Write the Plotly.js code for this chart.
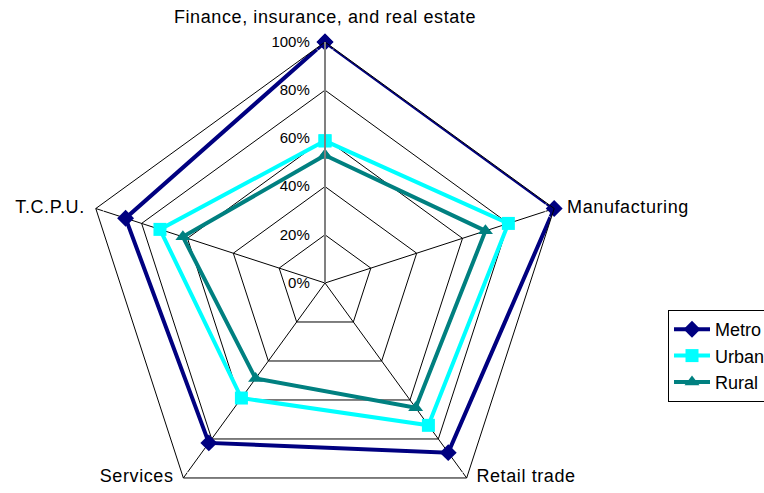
<!DOCTYPE html>
<html>
<head>
<meta charset="utf-8">
<script src="https://cdn.plot.ly/plotly-3.0.1.min.js"></script>
<style>
  html, body { margin: 0; padding: 0; overflow: hidden; background: #fff; }
  #chart { width: 800px; height: 540px; }
  /* the original labels are set a little wider than Arial */
  .polar .textpoint text { letter-spacing: 0.6px; }
</style>
</head>
<body>
<div id="chart"></div>
<script>
// Sector shares by area type, radar chart (clockwise from the top).
const sectors = ['Finance, insurance, and real estate', 'Manufacturing', 'Retail trade', 'Services', 'T.C.P.U.'];
const metro = [1.00, 1.00, 0.87, 0.82, 0.87];
const urban = [0.59, 0.80, 0.73, 0.59, 0.72];
const rural = [0.53, 0.70, 0.64, 0.49, 0.62];

const FONT = 'Arial, "Liberation Sans", sans-serif';

// repeat the first point so each polygon closes
const closed = arr => [...arr, arr[0]];

function series(name, values, color, symbol) {
  return {
    type: 'scatterpolar',
    mode: 'lines+markers',
    name,
    r: closed(values),
    theta: closed(sectors),
    line: { color, width: 4 },
    marker: { color, symbol, size: 13 },
    cliponaxis: false,
  };
}

// category labels: a text trace on the outer ring, so each label can sit on
// its own side of the vertex like the original. The invisible marker size
// only sets how far the text stands off the vertex.
const labelTrace = {
  type: 'scatterpolar',
  mode: 'markers+text',
  r: sectors.map(() => 1),
  theta: sectors,
  text: sectors,
  textposition: ['top center', 'middle right', 'middle right', 'middle left', 'middle left'],
  textfont: { family: FONT, size: 18, color: '#000' },
  marker: { size: [22, 19, 14, 14, 16], color: 'rgba(0,0,0,0)' },
  showlegend: false,
  cliponaxis: false,
  hoverinfo: 'skip',
};

const traces = [
  series('Metro', metro, '#000080', 'diamond'),
  series('Urban', urban, '#00ffff', 'square'),
  series('Rural', rural, '#008080', 'triangle-up'),
  labelTrace,
];

const W = 800, H = 540;
const cx = 325, cy = 283, R = 241;

const layout = {
  width: W, height: H,
  margin: { t: 0, r: 0, b: 0, l: 0, autoexpand: false },
  paper_bgcolor: '#fff',
  font: { family: FONT, color: '#000', size: 18 },
  showlegend: true,
  legend: {
    x: 668 / W, xanchor: 'left',
    y: 1 - 310 / H, yanchor: 'top',
    bordercolor: '#000', borderwidth: 1,
    font: { family: FONT, size: 18, color: '#000' },
    itemwidth: 36,
    tracegroupgap: 0,
  },
  polar: {
    domain: { x: [(cx - R) / W, (cx + R) / W], y: [1 - (cy + R) / H, 1 - (cy - R) / H] },
    gridshape: 'linear',
    bgcolor: '#fff',
    angularaxis: {
      type: 'category',
      rotation: 90,
      direction: 'clockwise',
      showline: true, linecolor: '#000', linewidth: 1,
      gridcolor: '#000', gridwidth: 1,
      ticks: '',
      showticklabels: false,
    },
    radialaxis: {
      range: [0, 1],
      dtick: 0.2,
      tickformat: '.0%',
      angle: 90,
      side: 'counterclockwise',
      tickangle: 90,
      showline: true, linecolor: '#808080', linewidth: 2,
      gridcolor: '#000', gridwidth: 1,
      ticks: 'outside', ticklen: 9, tickcolor: 'rgba(0,0,0,0)',
      tickfont: { family: FONT, size: 15, color: '#000' },
    },
  },
};

Plotly.newPlot('chart', traces, layout, { displayModeBar: false, staticPlot: true });
</script>
</body>
</html>
